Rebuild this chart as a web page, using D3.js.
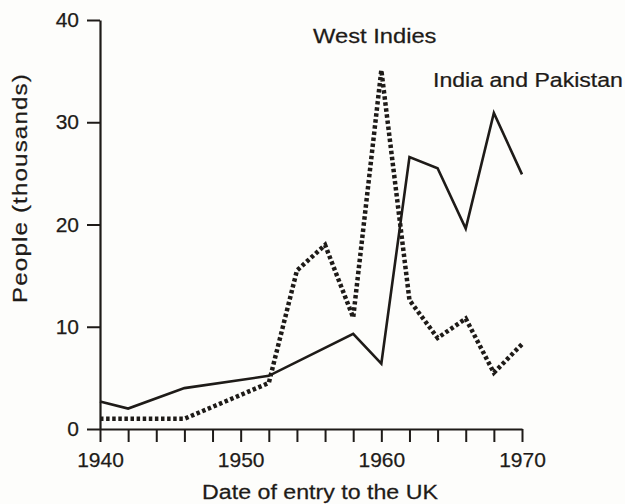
<!DOCTYPE html>
<html><head><meta charset="utf-8">
<script src="https://cdn.jsdelivr.net/npm/d3@7"></script>
<style>
body{margin:0;background:#fdfdfb;}
svg{display:block;}
text{font-family:"Liberation Sans",Arial,sans-serif;fill:#1e1b18;stroke:#1e1b18;stroke-width:0.25px;}
</style></head>
<body>
<svg id="c" width="625" height="504"></svg>
<script>
const indiaYears = [1940,1942,1946,1952,1958,1960,1962,1964,1966,1968,1970];
const indiaValues = [2.7,2.0,4.0,5.2,9.3,6.4,26.6,25.5,19.6,30.9,24.9];
const wiYears = [1940,1946,1952,1954,1956,1958,1960,1962,1964,1966,1968,1970];
const wiValues = [1.0,1.0,4.5,15.5,18.0,10.9,35.1,12.6,8.9,10.8,5.5,8.3];
const xTickValues = d3.range(1940,1971,2);
const xLabelValues = [1940,1950,1960,1970];
const yTickValues = [0,10,20,30,40];
const seriesNames = ["West Indies","India and Pakistan"];
const xTitle = "Date of entry to the UK";
const yTitle = "People (thousands)";

const ink = "#1e1b18";
const svg = d3.select("#c");
const x = d3.scaleLinear().domain([1940,1970]).range([100,522]);
const y = d3.scaleLinear().domain([0,40]).range([429,20]);

// axes
const xAxis = d3.axisBottom(x).tickValues(xTickValues).tickSize(13).tickPadding(9)
  .tickFormat(d => xLabelValues.includes(d) ? d : "").tickSizeOuter(0);
const gx = svg.append("g").attr("transform","translate(0,"+y(0)+")").call(xAxis);
gx.select(".domain").attr("stroke",ink).attr("stroke-width",2.2);
gx.selectAll(".tick line").attr("stroke",ink).attr("stroke-width",2);
gx.selectAll(".tick text").attr("font-size",21).attr("fill",ink).attr("dy","0.75em");

const yAxis = d3.axisLeft(y).tickValues(yTickValues).tickSize(13).tickPadding(8).tickSizeOuter(0);
const gy = svg.append("g").attr("transform","translate("+x(1940)+",0)").call(yAxis);
gy.select(".domain").attr("stroke",ink).attr("stroke-width",2.2);
gy.selectAll(".tick line").attr("stroke",ink).attr("stroke-width",2);
gy.selectAll(".tick text").attr("font-size",21).attr("fill",ink);

// lines
const india = indiaYears.map((d,i)=>[d,indiaValues[i]]);
const wi = wiYears.map((d,i)=>[d,wiValues[i]]);
const line = d3.line().x(d=>x(d[0])).y(d=>y(d[1]));

svg.append("path").datum(india).attr("d",line).attr("fill","none")
  .attr("stroke",ink).attr("stroke-width",2.6).attr("stroke-linejoin","miter");
svg.append("path").datum(wi).attr("d",line).attr("fill","none")
  .attr("stroke",ink).attr("stroke-width",4.5).attr("stroke-dasharray","3.5 2.6");

// annotations (horizontally widened like the scanned type)
svg.append("text").attr("transform","translate(313,43) scale(1.13,1)").attr("font-size",21)
  .text(seriesNames[0]);
svg.append("text").attr("transform","translate(433,87) scale(1.1,1)").attr("font-size",21)
  .text(seriesNames[1]);

// titles
svg.append("text").attr("transform","translate(320,499) scale(1.16,1)").attr("text-anchor","middle")
  .attr("font-size",20).text(xTitle);
svg.append("text").attr("transform","translate(27,188) rotate(-90) scale(1.15,1)")
  .attr("text-anchor","middle").attr("font-size",21).attr("letter-spacing",1).text(yTitle);
</script>
</body></html>
